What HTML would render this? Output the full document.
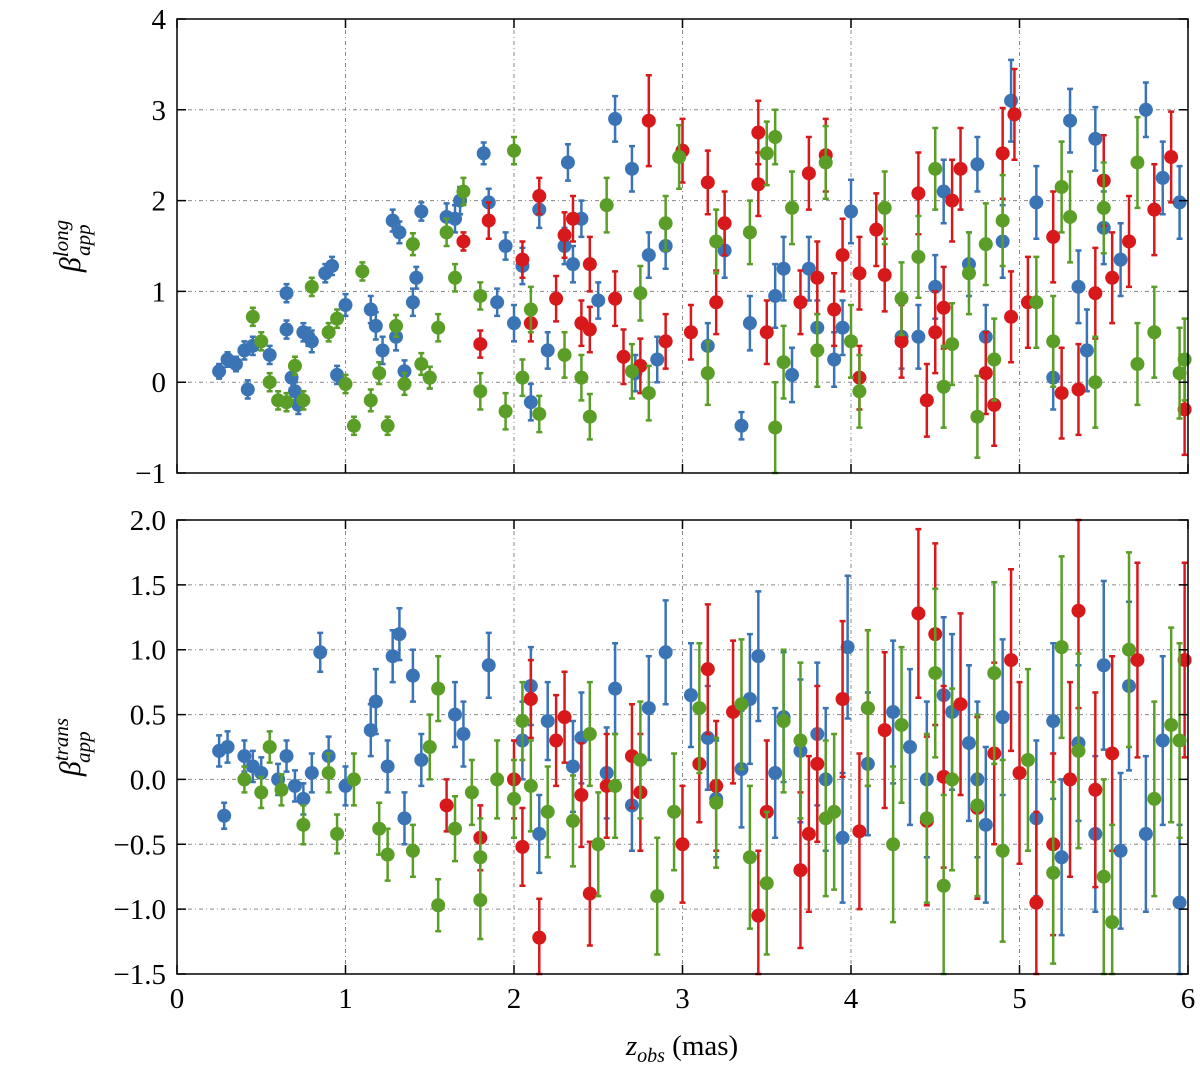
<!DOCTYPE html>
<html><head><meta charset="utf-8"><style>
body{margin:0;background:#fff}
svg{display:block}
text{font-family:"Liberation Serif",serif;fill:#000}
</style></head><body>
<svg id="chart" width="1200" height="1072" viewBox="0 0 1200 1072" xmlns="http://www.w3.org/2000/svg"></svg>
<script>
// ---- data: [x, y, err] ----
const topBlue=[[0.25,0.12,0.08],[0.3,0.25,0.08],[0.35,0.2,0.08],[0.4,0.35,0.1],[0.45,0.4,0.1],[0.42,-0.08,0.1],[0.55,0.3,0.1],[0.65,0.98,0.1],[0.65,0.58,0.1],[0.68,0.05,0.12],[0.7,-0.1,0.1],[0.72,-0.25,0.1],[0.75,0.55,0.1],[0.78,0.5,0.1],[0.8,0.45,0.12],[0.88,1.2,0.1],[0.92,1.28,0.1],[0.95,0.08,0.1],[1.0,0.85,0.12],[1.15,0.8,0.15],[1.18,0.62,0.15],[1.22,0.35,0.15],[1.28,1.78,0.12],[1.3,0.5,0.15],[1.32,1.65,0.12],[1.35,0.12,0.12],[1.4,0.88,0.15],[1.42,1.15,0.12],[1.45,1.88,0.1],[1.5,0.05,0.12],[1.6,1.82,0.15],[1.65,1.8,0.15],[1.68,2.0,0.15],[1.82,2.52,0.12],[1.85,1.98,0.15],[1.9,0.88,0.15],[1.95,1.5,0.15],[2.0,0.65,0.2],[2.05,1.28,0.2],[2.1,-0.22,0.2],[2.15,1.9,0.2],[2.2,0.35,0.2],[2.3,1.5,0.2],[2.32,2.42,0.2],[2.35,1.3,0.2],[2.4,1.8,0.2],[2.5,0.9,0.2],[2.6,2.9,0.25],[2.7,2.35,0.25],[2.72,0.1,0.2],[2.8,1.4,0.25],[2.85,0.25,0.25],[2.9,1.5,0.25],[3.15,0.4,0.25],[3.25,1.45,0.3],[3.35,-0.48,0.15],[3.4,0.65,0.3],[3.55,0.95,0.35],[3.6,1.25,0.35],[3.65,0.08,0.3],[3.75,1.25,0.35],[3.8,0.6,0.3],[3.9,0.25,0.3],[3.95,0.6,0.3],[4.0,1.88,0.35],[4.3,0.5,0.35],[4.4,0.5,0.35],[4.5,1.05,0.35],[4.55,2.1,0.35],[4.7,1.3,0.35],[4.75,2.4,0.3],[4.8,0.5,0.35],[4.9,1.55,0.4],[4.95,3.1,0.45],[5.1,1.98,0.4],[5.2,0.05,0.35],[5.3,2.88,0.35],[5.35,1.05,0.4],[5.4,0.35,0.45],[5.45,2.68,0.35],[5.5,1.7,0.4],[5.6,1.35,0.4],[5.75,3.0,0.3],[5.85,2.25,0.4],[5.95,1.98,0.4]];
const topRed=[[1.7,1.55,0.1],[1.8,0.42,0.15],[1.85,1.78,0.2],[2.05,1.35,0.2],[2.1,0.65,0.2],[2.15,2.05,0.2],[2.25,0.92,0.25],[2.3,1.62,0.25],[2.35,1.8,0.25],[2.4,0.65,0.25],[2.45,1.3,0.3],[2.45,0.58,0.25],[2.6,0.92,0.3],[2.65,0.28,0.3],[2.75,0.18,0.3],[2.8,2.88,0.5],[2.9,0.45,0.3],[3.0,2.55,0.35],[3.05,0.55,0.3],[3.15,2.2,0.35],[3.2,0.88,0.35],[3.25,1.75,0.35],[3.45,2.75,0.35],[3.45,2.18,0.35],[3.5,0.55,0.35],[3.7,0.88,0.35],[3.75,2.3,0.4],[3.8,1.15,0.4],[3.85,2.5,0.4],[3.9,0.8,0.4],[3.95,1.4,0.4],[4.05,1.2,0.4],[4.05,0.05,0.35],[4.15,1.68,0.4],[4.2,1.18,0.4],[4.3,0.45,0.4],[4.4,2.08,0.45],[4.45,-0.2,0.4],[4.5,0.55,0.45],[4.55,0.82,0.45],[4.6,2.0,0.45],[4.65,2.35,0.45],[4.8,0.1,0.45],[4.85,-0.25,0.45],[4.9,2.52,0.5],[4.95,0.72,0.5],[4.97,2.95,0.5],[5.05,0.88,0.5],[5.2,1.6,0.5],[5.25,-0.12,0.5],[5.35,-0.08,0.5],[5.45,0.98,0.5],[5.5,2.22,0.5],[5.55,1.15,0.5],[5.65,1.55,0.5],[5.8,1.9,0.5],[5.9,2.48,0.5],[5.98,-0.3,0.5]];
const topGreen=[[0.45,0.72,0.1],[0.5,0.45,0.1],[0.55,0.0,0.1],[0.6,-0.2,0.1],[0.65,-0.22,0.1],[0.7,0.18,0.1],[0.75,-0.2,0.1],[0.8,1.05,0.1],[0.9,0.55,0.1],[0.95,0.7,0.1],[1.0,-0.02,0.1],[1.05,-0.48,0.1],[1.1,1.22,0.1],[1.15,-0.2,0.12],[1.2,0.1,0.12],[1.25,-0.48,0.1],[1.3,0.62,0.12],[1.35,-0.02,0.12],[1.4,1.52,0.12],[1.45,0.2,0.12],[1.5,0.05,0.12],[1.55,0.6,0.15],[1.6,1.65,0.15],[1.65,1.15,0.15],[1.7,2.1,0.15],[1.8,0.95,0.15],[1.8,-0.1,0.2],[1.95,-0.32,0.2],[2.0,2.55,0.15],[2.05,0.05,0.2],[2.1,0.8,0.25],[2.15,-0.35,0.2],[2.3,0.3,0.25],[2.4,0.05,0.25],[2.45,-0.38,0.25],[2.55,1.95,0.3],[2.7,0.12,0.3],[2.75,0.98,0.3],[2.8,-0.12,0.3],[2.9,1.75,0.3],[2.98,2.48,0.35],[3.15,0.1,0.35],[3.2,1.55,0.35],[3.4,1.65,0.35],[3.5,2.52,0.35],[3.55,2.7,0.3],[3.55,-0.5,0.5],[3.6,0.22,0.4],[3.65,1.92,0.4],[3.8,0.35,0.4],[3.85,2.42,0.4],[4.0,0.45,0.4],[4.05,-0.1,0.4],[4.2,1.92,0.4],[4.3,0.92,0.4],[4.4,1.38,0.45],[4.5,2.35,0.45],[4.55,-0.05,0.45],[4.6,0.42,0.45],[4.7,1.2,0.45],[4.75,-0.38,0.45],[4.8,1.52,0.45],[4.85,0.25,0.45],[4.9,1.78,0.5],[5.1,0.88,0.5],[5.2,0.45,0.5],[5.25,2.15,0.5],[5.3,1.82,0.5],[5.45,0.0,0.5],[5.5,1.92,0.5],[5.7,2.42,0.5],[5.7,0.2,0.45],[5.8,0.55,0.5],[5.95,0.1,0.5],[5.98,0.25,0.45]];
const botBlue=[[0.25,0.22,0.12],[0.28,-0.28,0.1],[0.3,0.25,0.12],[0.4,0.18,0.12],[0.45,0.1,0.12],[0.5,0.05,0.12],[0.6,0.0,0.12],[0.65,0.18,0.12],[0.7,-0.05,0.12],[0.75,-0.15,0.12],[0.8,0.05,0.15],[0.85,0.98,0.15],[0.9,0.18,0.15],[1.0,-0.05,0.15],[1.15,0.38,0.2],[1.18,0.6,0.25],[1.25,0.1,0.2],[1.28,0.95,0.2],[1.32,1.12,0.2],[1.35,-0.3,0.2],[1.4,0.8,0.2],[1.45,0.15,0.2],[1.65,0.5,0.25],[1.7,0.35,0.25],[1.85,0.88,0.25],[2.05,0.3,0.3],[2.1,0.72,0.3],[2.15,-0.42,0.3],[2.2,0.45,0.3],[2.35,0.1,0.35],[2.4,0.32,0.35],[2.55,0.05,0.35],[2.6,0.7,0.35],[2.7,-0.2,0.35],[2.8,0.55,0.4],[2.9,0.98,0.4],[3.05,0.65,0.4],[3.15,0.32,0.4],[3.2,-0.15,0.45],[3.35,0.08,0.45],[3.4,0.62,0.5],[3.45,0.95,0.5],[3.55,0.05,0.5],[3.6,0.48,0.5],[3.7,0.22,0.55],[3.8,0.35,0.55],[3.85,0.0,0.55],[3.95,-0.45,0.5],[3.98,1.02,0.55],[4.1,0.12,0.55],[4.25,0.52,0.55],[4.35,0.25,0.6],[4.45,0.0,0.6],[4.55,0.65,0.6],[4.6,0.52,0.6],[4.7,0.28,0.6],[4.75,0.0,0.6],[4.8,-0.35,0.6],[4.9,0.48,0.6],[5.1,-0.3,0.6],[5.2,0.45,0.6],[5.25,-0.6,0.6],[5.35,0.28,0.6],[5.45,-0.42,0.6],[5.5,0.88,0.65],[5.6,-0.55,0.6],[5.65,0.72,0.65],[5.75,-0.42,0.6],[5.85,0.3,0.65],[5.95,-0.95,0.6]];
const botRed=[[1.6,-0.2,0.2],[1.8,-0.45,0.25],[2.0,0.0,0.3],[2.05,-0.52,0.3],[2.1,0.62,0.3],[2.15,-1.22,0.3],[2.25,0.3,0.35],[2.3,0.48,0.35],[2.4,-0.12,0.4],[2.45,-0.88,0.4],[2.55,-0.05,0.4],[2.7,0.18,0.4],[2.75,-0.1,0.45],[3.0,-0.5,0.45],[3.1,0.12,0.45],[3.15,0.85,0.5],[3.2,-0.05,0.5],[3.3,0.52,0.55],[3.45,-1.05,0.5],[3.5,-0.25,0.55],[3.7,-0.7,0.6],[3.75,-0.42,0.6],[3.8,0.12,0.6],[3.95,0.62,0.6],[4.05,-0.4,0.6],[4.1,0.55,0.6],[4.2,0.38,0.6],[4.4,1.28,0.65],[4.45,-0.32,0.65],[4.5,1.12,0.7],[4.55,0.02,0.7],[4.65,0.58,0.7],[4.75,-0.22,0.7],[4.85,0.2,0.7],[4.95,0.92,0.7],[5.0,0.05,0.7],[5.1,-0.95,0.7],[5.2,-0.5,0.7],[5.3,0.0,0.75],[5.35,1.3,0.75],[5.45,-0.08,0.75],[5.55,0.2,0.75],[5.7,0.92,0.75],[5.98,0.92,0.75]];
const botGreen=[[0.4,0.0,0.1],[0.5,-0.1,0.12],[0.55,0.25,0.12],[0.62,-0.08,0.12],[0.75,-0.35,0.15],[0.9,0.05,0.15],[0.95,-0.42,0.15],[1.05,0.0,0.2],[1.2,-0.38,0.2],[1.25,-0.58,0.2],[1.4,-0.55,0.2],[1.5,0.25,0.25],[1.55,0.7,0.25],[1.55,-0.97,0.2],[1.65,-0.38,0.25],[1.75,-0.1,0.25],[1.8,-0.6,0.3],[1.8,-0.93,0.3],[1.9,0.0,0.3],[2.0,-0.15,0.3],[2.05,0.45,0.3],[2.1,-0.05,0.35],[2.2,-0.25,0.35],[2.35,-0.32,0.35],[2.45,0.35,0.4],[2.5,-0.5,0.4],[2.6,-0.05,0.4],[2.75,0.15,0.45],[2.85,-0.9,0.45],[2.95,-0.25,0.45],[3.1,0.55,0.5],[3.2,-0.18,0.5],[3.35,0.58,0.5],[3.4,-0.6,0.55],[3.5,-0.8,0.55],[3.6,0.45,0.55],[3.7,0.3,0.6],[3.85,-0.3,0.6],[3.9,-0.25,0.6],[4.1,0.55,0.6],[4.25,-0.5,0.6],[4.3,0.42,0.6],[4.45,-0.3,0.65],[4.5,0.82,0.65],[4.55,-0.82,0.7],[4.6,0.0,0.7],[4.75,-0.2,0.7],[4.85,0.82,0.7],[4.9,-0.55,0.7],[5.05,0.15,0.7],[5.2,-0.72,0.7],[5.25,1.02,0.7],[5.35,0.22,0.75],[5.5,-0.75,0.75],[5.55,-1.1,0.75],[5.65,1.0,0.75],[5.8,-0.15,0.75],[5.9,0.42,0.75],[5.95,0.3,0.75]];
const xTicks=[0,1,2,3,4,5,6];
const topYTicks=[-1,0,1,2,3,4];
const botYTicks=[-1.5,-1.0,-0.5,0.0,0.5,1.0,1.5,2.0];

const svg=document.getElementById('chart');
const NS='http://www.w3.org/2000/svg';
const X0=177,X1=1188;
function sx(v){return X0+(v-0)/(6-0)*(X1-X0);}
const panels=[
 {name:'top',top:19,bot:473,ymin:-1,ymax:4,ticks:topYTicks,fmt:v=>v<0?'−'+(-v):''+v,series:[[topBlue,'#3b74b5','blue'],[topRed,'#d7191c','red'],[topGreen,'#5a9e28','green']],labels:false},
 {name:'bottom',top:520,bot:974,ymin:-1.5,ymax:2.0,ticks:botYTicks,fmt:v=>(v<0?'−':'')+Math.abs(v).toFixed(1),series:[[botBlue,'#3b74b5','blue'],[botRed,'#d7191c','red'],[botGreen,'#5a9e28','green']],labels:true}
];
function mk(tag,attrs,parent){const e=document.createElementNS(NS,tag);for(const k in attrs)e.setAttribute(k,attrs[k]);(parent||svg).appendChild(e);return e;}
panels.forEach(p=>{
 const sy=v=>p.bot-(v-p.ymin)/(p.ymax-p.ymin)*(p.bot-p.top);
 const g=mk('g',{});
 
 
 xTicks.slice(1,-1).forEach(t=>{const l=mk('line',{x1:sx(t),x2:sx(t),y1:p.top,y2:p.bot,stroke:'#888','stroke-width':1,'stroke-dasharray':'4,3,1,3'},g);
  });
 p.ticks.slice(1,-1).forEach(t=>{const l=mk('line',{x1:X0,x2:X1,y1:sy(t),y2:sy(t),stroke:'#888','stroke-width':1,'stroke-dasharray':'4,3,1,3'},g);
  });
 p.series.forEach(([data,col,nm])=>{
  const sg=mk('g',{},g);
  
  
  data.forEach(([x,y,e])=>{
   const cx=sx(x),cy=sy(y),y1=Math.max(p.top,sy(y+e)),y2=Math.min(p.bot,sy(y-e));
   const eb=mk('path',{d:`M${cx},${y1}V${y2}M${cx-3},${y1}H${cx+3}M${cx-3},${y2}H${cx+3}`,stroke:col,'stroke-width':2.5,fill:'none'},sg);
   
   
   const c=mk('circle',{cx:cx,cy:cy,r:7,fill:col},sg);
   
   
  });
 });
 const fr=mk('rect',{x:X0,y:p.top,width:X1-X0,height:p.bot-p.top,fill:'none',stroke:'#000','stroke-width':1.5},g);
 
 xTicks.forEach(t=>{mk('path',{d:`M${sx(t)},${p.bot}v-9M${sx(t)},${p.top}v9`,stroke:'#000','stroke-width':1.5},g);
  if(p.labels){const tx=mk('text',{x:sx(t),y:p.bot+34,'text-anchor':'middle','font-size':29},g);tx.textContent=t;
   }});
 p.ticks.forEach(t=>{mk('path',{d:`M${X0},${sy(t)}h9M${X1},${sy(t)}h-9`,stroke:'#000','stroke-width':1.5},g);
  const tx=mk('text',{x:X0-11,y:sy(t)+10,'text-anchor':'end','font-size':29},g);tx.textContent=p.fmt(t);
  });
});
(function(){
 function lab(x,y,main,sup,sub,name){
  const t=document.createElementNS(NS,'text');
  t.setAttribute('transform',`translate(${x},${y}) rotate(-90)`);
  t.setAttribute('text-anchor','middle');t.setAttribute('font-size','30');t.setAttribute('font-style','italic');
  
  t.innerHTML=`<tspan>${main}</tspan><tspan font-size="21" dy="-12">${sup}</tspan><tspan font-size="21" dx="-${sup.length*9}" dy="22">${sub}</tspan>`;
  svg.appendChild(t);
 }
 lab(80,246,'β','long','app','top-y-axis-title');
 lab(80,747,'β','trans','app','bottom-y-axis-title');
 const t=document.createElementNS(NS,'text');
 t.setAttribute('x','682');t.setAttribute('y','1055');t.setAttribute('text-anchor','middle');t.setAttribute('font-size','29');
 
 t.innerHTML='<tspan font-style="italic">z</tspan><tspan font-style="italic" font-size="20" dy="7">obs</tspan><tspan dy="-7"> (mas)</tspan>';
 svg.appendChild(t);
})();
</script>
</body></html>
